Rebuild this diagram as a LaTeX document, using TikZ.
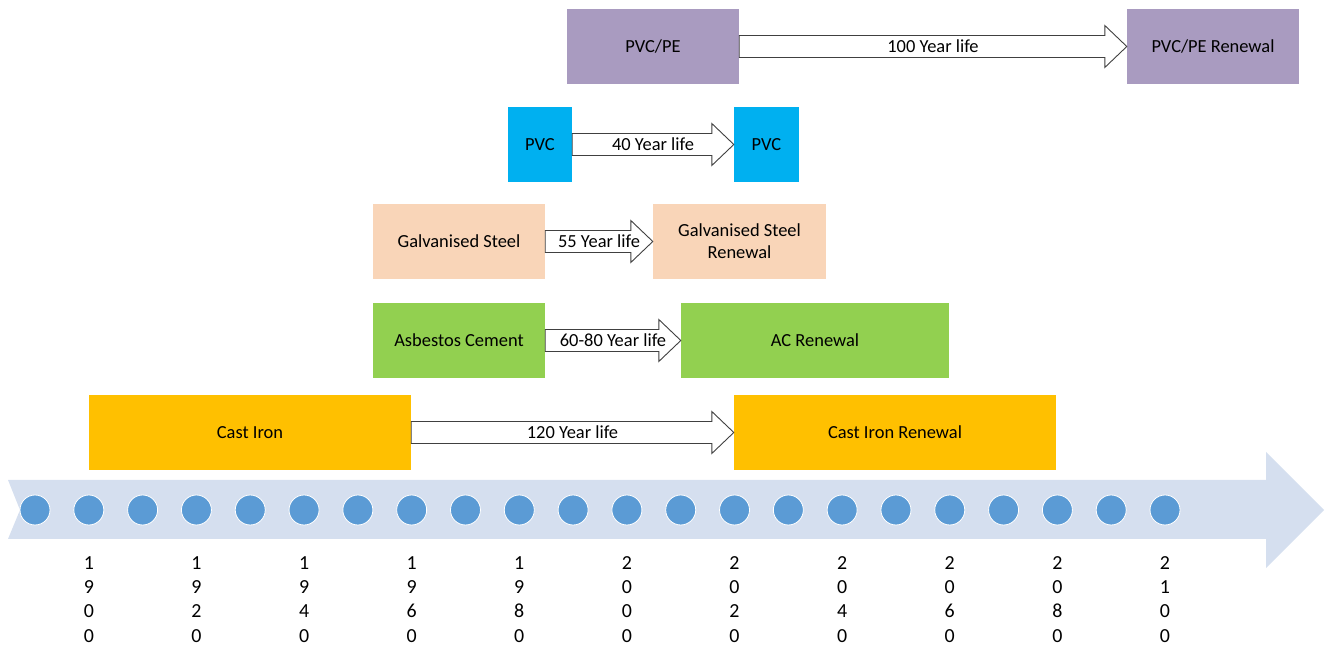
\documentclass[tikz,border=0pt]{standalone}
\usepackage{fontspec}
\setmainfont{Carlito}
\usetikzlibrary{calc}
\definecolor{ironcol}{HTML}{FFC000}
\definecolor{accol}{HTML}{92D050}
\definecolor{galvcol}{HTML}{F9D5B8}
\definecolor{pvccol}{HTML}{00B0F0}
\definecolor{pecol}{HTML}{A99BC0}
\definecolor{bandcol}{HTML}{D5DFEF}
\definecolor{dotcol}{HTML}{5B9BD5}
\definecolor{edgecol}{HTML}{404040}
% block arrow from one box to the next, label in the middle
\newcommand{\lifespan}[4]{%
  \draw [lifearrow] ($(#1.east)+(0,11bp)$) -- ($(#2.west)+(-22bp,11bp)$) -- ($(#2.west)+(-22bp,21bp)$) -- (#2.west) -- ($(#2.west)+(-22bp,-21bp)$) -- ($(#2.west)+(-22bp,-11bp)$) -- ($(#1.east)+(0,-11bp)$) -- cycle;
  \node (#3) at ($(#1.east)!0.5!(#2.west)$) [lbl] {#4};}
\begin{document}
\begin{tikzpicture}[
    box/.style={minimum height=75bp,inner sep=2bp,align=center,font=\fontsize{18.5}{22}\selectfont},
    lbl/.style={inner sep=0pt,font=\fontsize{18.5}{22}\selectfont},
    lifearrow/.style={draw=edgecol,fill=white,line width=0.9bp},
    dot/.style={circle,fill=dotcol,draw=white,line width=0.8bp,minimum size=30bp,inner sep=0pt},
    year/.style={anchor=north,inner sep=0pt,align=center,font=\fontsize{20}{24.5}\selectfont}]
		%%
  \useasboundingbox (0,0) rectangle (1330bp,650bp);
  \fill [bandcol] (8bp,170bp) -- (1266bp,170bp) -- (1266bp,198bp) -- (1324bp,140bp) -- (1266bp,82bp) -- (1266bp,111bp) -- (8bp,111bp) -- (20bp,140bp) -- cycle;
  \foreach \i in {0,...,21}
    \node (D\i) at ({35bp+\i*53.81bp},140bp) [dot] {};
  \foreach \i/\da/\db/\dc/\dd in {1/1/9/0/0,3/1/9/2/0,5/1/9/4/0,7/1/9/6/0,9/1/9/8/0,11/2/0/0/0,13/2/0/2/0,15/2/0/4/0,17/2/0/6/0,19/2/0/8/0,21/2/1/0/0}
    \node (Y\i) at ($(D\i)+(0,-46bp)$) [year] {\da\\\db\\\dc\\\dd};
  %
  \node (CI) at (250bp,217.5bp) [box,fill=ironcol,minimum width=322bp] {Cast Iron};
  \node (CIR) at (895bp,217.5bp) [box,fill=ironcol,minimum width=322bp] {Cast Iron Renewal};
  \node (AC) at (459bp,309.5bp) [box,fill=accol,minimum width=172bp] {Asbestos Cement};
  \node (ACR) at (815bp,309.5bp) [box,fill=accol,minimum width=268bp] {AC Renewal};
  \node (GS) at (459bp,408.5bp) [box,fill=galvcol,minimum width=172bp] {Galvanised Steel};
  \node (GSR) at (739.5bp,408.5bp) [box,fill=galvcol,minimum width=173bp] {Galvanised Steel\\Renewal};
  \node (PVC) at (540bp,505.5bp) [box,fill=pvccol,minimum width=64bp] {PVC};
  \node (PVCR) at (766.5bp,505.5bp) [box,fill=pvccol,minimum width=65bp] {PVC};
  \node (PE) at (653bp,603.5bp) [box,fill=pecol,minimum width=172bp] {PVC/PE};
  \node (PER) at (1213bp,603.5bp) [box,fill=pecol,minimum width=172bp] {PVC/PE Renewal};
  %
  \lifespan{CI}{CIR}{L1}{120 Year life}
  \lifespan{AC}{ACR}{L2}{60-80 Year life}
  \lifespan{GS}{GSR}{L3}{55 Year life}
  \lifespan{PVC}{PVCR}{L4}{40 Year life}
  \lifespan{PE}{PER}{L5}{100 Year life}
		%
\end{tikzpicture}
\end{document}
